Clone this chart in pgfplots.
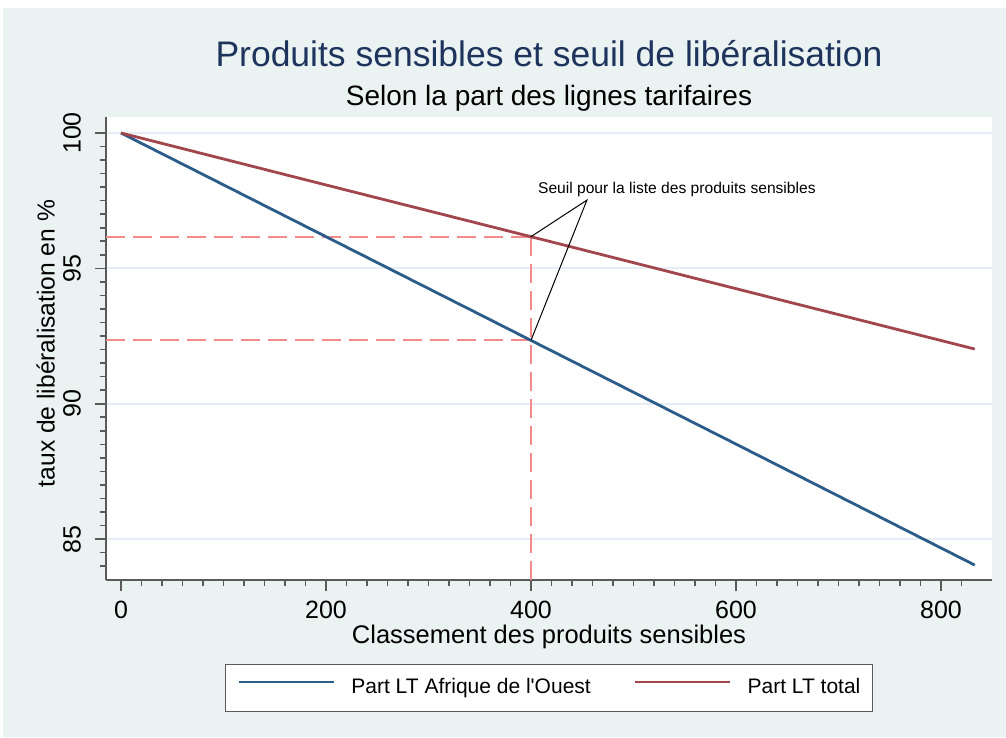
\documentclass[border=0pt]{standalone}
\usepackage{fontspec}
\setmainfont{Liberation Sans}
\usepackage{pgfplots}
\pgfplotsset{compat=1.18}
\definecolor{bgc}{RGB}{234,242,242}
\definecolor{gridc}{RGB}{230,237,244}
\definecolor{blueline}{RGB}{43,92,138}
\definecolor{redline}{RGB}{160,70,76}
\definecolor{dashc}{RGB}{244,137,138}
\definecolor{titlec}{RGB}{30,52,92}
\definecolor{axc}{RGB}{90,90,90}
\begin{document}
\begin{tikzpicture}
\fill[white] (0,0) rectangle (1006pt,737pt);
\fill[bgc] (3pt,0) rectangle (1006pt,729pt);
\node[anchor=base, font=\fontsize{35.5}{40}\selectfont, text=titlec, inner sep=0pt] at (549pt,670pt) {Produits sensibles et seuil de libéralisation};
\node[anchor=base, font=\fontsize{28}{32}\selectfont, text=black, inner sep=0pt] at (549pt,631pt) {Selon la part des lignes tarifaires};
\begin{axis}[
  at={(106pt,157pt)}, anchor=south west,
  scale only axis, width=886pt, height=463pt,
  xmin=-14.6, xmax=849.8, ymin=83.49, ymax=100.59,
  axis lines=left, axis line style={-, draw=axc, line width=1.5pt},
  axis background/.style={fill=white},
  xtick={0,200,400,600,800},
  minor xtick={20,40,60,80,100,120,140,160,180,220,240,260,280,300,320,340,360,380,420,440,460,480,500,520,540,560,580,620,640,660,680,700,720,740,760,780,820},
  ytick={85,90,95,100},
  minor ytick={84,84.5,85.5,86,86.5,87,87.5,88,88.5,89,89.5,90.5,91,91.5,92,92.5,93,93.5,94,94.5,95.5,96,96.5,97,97.5,98,98.5,99,99.5},
  tick align=outside, major tick length=11pt, minor tick length=6pt,
  tick style={draw=axc, line width=1.6pt},
  ymajorgrids, grid style={gridc, line width=2.2pt},
  /pgf/number format/assume math mode=true,
  ticklabel style={font=\fontsize{25}{29}\selectfont, text=black},
  xticklabel style={anchor=base, inner sep=0pt, yshift=-27pt},
  yticklabel style={xshift=-14pt, rotate=90, anchor=south, inner sep=0pt},
  every axis x label/.style={at={(rel axis cs:0.5,0)}, anchor=base, inner sep=0pt, yshift=-63pt, font=\fontsize{25.5}{30}\selectfont},
  every axis y label/.style={at={(rel axis cs:0,0.5)}, xshift=-51pt, yshift=5pt, rotate=90, anchor=south, inner sep=0pt, font=\fontsize{24.6}{29}\selectfont},
  xlabel={Classement des produits sensibles},
  ylabel={taux de libéralisation en \%},
  legend columns=2,
  legend style={at={(0.5,0)}, anchor=center, yshift=-108pt, draw=axc, line width=1.5pt, fill=white,
    font=\fontsize{21}{25}\selectfont, inner xsep=12pt, inner ysep=14pt,
    nodes={inner sep=0pt, text height=15pt, text depth=4pt},
    /tikz/every odd column/.append style={column sep=16pt},
    /tikz/every even column/.append style={column sep=43pt}},
  legend cell align=left,
  legend image code/.code={\draw[#1] (0pt,6pt) -- (95pt,6pt);},
]
\addplot[dashc, line width=2pt, dash pattern=on 19pt off 8pt, forget plot] coordinates {(-14.6,96.17) (400,96.17)};
\addplot[dashc, line width=2pt, dash pattern=on 19pt off 8pt, forget plot] coordinates {(-14.6,92.34) (400,92.34)};
\addplot[dashc, line width=2pt, dash pattern=on 19pt off 8pt, forget plot] coordinates {(400,83.49) (400,96.17)};
\addplot[blueline, line width=2.8pt] coordinates {(0,100) (200,96.17) (400,92.34) (600,88.51) (833,84.04)};
\addlegendentry{Part LT Afrique de l\textquotesingle Ouest}
\addplot[redline, line width=2.8pt] coordinates {(0,100) (200,98.08) (400,96.17) (600,94.25) (833,92.02)};
\addlegendentry{Part LT total}
\addplot[black, line width=1pt, forget plot] coordinates {(400,96.17) (454.6,97.52) (400,92.34)};
\node[anchor=base west, inner sep=0pt, font=\fontsize{15.6}{18}\selectfont] at (axis cs:406.8,97.78) {Seuil pour la liste des produits sensibles};
\end{axis}
\end{tikzpicture}
\end{document}
